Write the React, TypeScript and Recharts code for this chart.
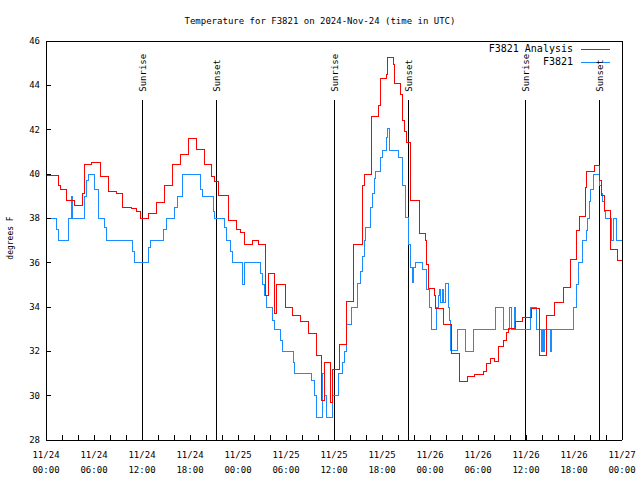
import React from 'react';
import { LineChart, Line, XAxis, YAxis, ReferenceLine } from 'recharts';

// hours since 11/24 00:00 UTC, temperature in deg F (step changes)
const ANALYSIS_HOURS = [
  0, 1.55, 1.75, 2.6, 3.6, 4.6, 4.75, 5.7, 6.75, 7.8, 8.75, 9.6, 10.7, 11.3, 11.75,
  12.8, 13.8, 14.75, 15.8, 16.75, 17.8, 18.75, 19.75, 20.7, 21.1, 21.6, 22.8, 23.75,
  24.25, 24.75, 25.8, 26.6, 27.45, 27.8, 28.5, 28.8, 29.9, 30.8, 31.8, 32.8, 33.75,
  34.45, 34.75, 35.5, 35.8, 36.7, 37.6, 38.4, 39.5, 39.6, 39.75, 40.7, 41.5, 41.75,
  42.5, 42.7, 43.4, 43.6, 44.3, 44.6, 44.75, 45.05, 45.6, 46.7, 47.4, 47.6, 47.85,
  48.55, 48.7, 49.7, 50.7, 51.7, 52.7, 53.6, 54.7, 55.1, 55.5, 56.1, 56.6, 57.2,
  57.6, 57.8, 58.7, 59.6, 60.7, 61.7, 62.6, 63.5, 64.7, 65.6, 66.3, 66.65, 67.4,
  67.6, 68.6, 69.2, 69.46, 69.75, 70.6, 71.45, 72,
];
const ANALYSIS_TEMPS = [
  39.95, 39.5, 39.3, 38.8, 38.6, 39.1, 40.45, 40.5, 39.9, 39.2, 39.1, 38.5, 38.45, 38.3, 38.0,
  38.2, 38.7, 39.5, 40.45, 40.9, 41.6, 41.1, 40.45, 39.9, 39.65, 39.05, 37.9, 37.5,
  37.35, 36.8, 37.0, 36.8, 34.5, 35.5, 33.7, 35.0, 34.0, 33.6, 33.35, 32.8, 31.8,
  29.8, 31.5, 29.7, 31.2, 32.3, 34.25, 36.8, 37.6, 39.5, 40.0, 42.6, 43.1, 44.3,
  44.5, 45.25, 44.95, 44.07, 43.6, 42.4, 41.9, 41.4, 38.8, 37.3, 37.0, 35.9, 34.85,
  34.5, 33.94, 33.2, 31.9, 30.66, 30.85, 30.96, 31.1, 31.45, 31.68, 31.56, 32.23, 32.5,
  32.85, 33.03, 33.35, 33.53, 33.94, 31.83, 33.6, 34.2, 34.9, 36.15, 37.45, 38.1, 39.4,
  40.1, 40.38, 39.7, 39.05, 38.36, 36.6, 36.1, 35.96,
];

const OBS_HOURS = [
  0, 1.25, 1.5, 2.8, 3.15, 3.35, 4.75, 5.0, 5.3, 6.1, 6.55, 7.3, 7.6, 10.8, 11.0,
  12.75, 13.0, 14.65, 15.1, 16.1, 16.4, 17.1, 19.25, 19.5, 20.9, 21.05, 22.25, 22.5,
  23.0, 23.3, 24.5, 24.75, 26.75, 27.0, 27.3, 27.6, 28.3, 28.5, 29.3, 29.5, 30.9,
  31.0, 33.2, 33.5, 33.75, 34.5, 34.75, 35.0, 35.8, 36.6, 37.0, 37.3, 37.6, 38.2,
  38.9, 39.3, 39.5, 39.8, 39.95, 40.6, 40.8, 41.0, 41.2, 41.75, 42.0, 42.5, 42.65,
  42.9, 44.0, 44.6, 44.9, 45.3, 45.5, 45.75, 45.95, 46.2, 47.1, 47.5, 47.9, 48.2,
  48.8, 49.0, 49.2, 49.35, 49.5, 49.65, 49.9, 50.25, 50.45, 50.6, 51.4, 52.4, 53.4,
  56.2, 57.2, 57.9, 58.2, 58.5, 58.7, 60.6, 61.3, 61.95, 62.1, 62.2, 62.35, 63.05,
  63.15, 65.9, 66.25, 66.5, 67.0, 67.5, 67.65, 67.9, 68.1, 68.4, 69.2, 69.45, 69.6,
  69.75, 69.9, 70.7, 70.9, 71.35, 72,
];
const OBS_TEMPS = [
  38, 37.5, 37, 38, 39, 38, 39, 39.7, 40, 39.3, 38, 37.6, 37, 36.5, 36,
  36.7, 37, 37.5, 38, 38.5, 39, 40, 39.3, 39, 38.3, 38, 37.6, 37,
  36.5, 36, 35, 36, 35.5, 35, 34.5, 34, 33.4, 33, 32.5, 32, 31.5,
  31, 30.7, 30, 29, 31, 30, 29, 30, 31, 31.5, 32, 33.2, 34,
  35.06, 35.6, 36.26, 37.0, 37.6, 38.5, 39.1, 39.8, 40.1, 40.76, 41.07, 41.66, 42.04,
  41.07, 40.76, 39.5, 38.06, 36.8, 35.8, 35.1, 35.8, 36.0, 35.7, 34.8, 34.0, 33.0,
  34.0, 34.5, 34.8, 34.2, 34.8, 34.2, 35.05, 34.0, 33.4, 32.03, 33, 32, 33,
  34, 33, 34, 33, 34, 33, 34, 33, 32, 33, 32, 33, 32,
  33, 34, 35, 36, 37, 37.46, 38.0, 38.76, 39.3, 40, 39.5, 39.1, 38.76,
  38.3, 38.0, 37, 38, 37, 37,
];

const SUNRISE_HOURS = [12.03, 36.04, 59.9];
const SUNSET_HOURS = [21.25, 45.28, 69.16];

const X_TICKS = [0, 2, 4, 6, 8, 10, 12, 14, 16, 18, 20, 22, 24, 26, 28, 30, 32, 34, 36,
  38, 40, 42, 44, 46, 48, 50, 52, 54, 56, 58, 60, 62, 64, 66, 68, 70, 72];
const DATE_LABELS = ['11/24', '11/24', '11/24', '11/24', '11/25', '11/25', '11/25',
  '11/25', '11/26', '11/26', '11/26', '11/26', '11/27'];
const TIME_LABELS = ['00:00', '06:00', '12:00', '18:00', '00:00', '06:00', '12:00',
  '18:00', '00:00', '06:00', '12:00', '18:00', '00:00'];
const Y_TICKS = [28, 30, 32, 34, 36, 38, 40, 42, 44, 46];

const analysisData = ANALYSIS_HOURS.map((h, i) => ({ h, t: ANALYSIS_TEMPS[i] }));
const obsData = OBS_HOURS.map((h, i) => ({ h, t: OBS_TEMPS[i] }));

const W = 640;
const H = 480;
const LEFT = 46;
const RIGHT = 622;
const TOP = 41;
const BOTTOM = 440;
const SUN_TOP = 43.35;
const FONT = '"DejaVu Sans Mono", monospace';
const RED = '#ff0000';
const BLUE = '#1a8cff';

const BottomTick = (props: any) => {
  const { x, payload } = props;
  const v = payload.value;
  const major = v % 6 === 0;
  const i = v / 6;
  return (
    <g>
      <line x1={x} x2={x} y1={BOTTOM} y2={BOTTOM - 5} stroke="#000" />
      {major && (
        <text textAnchor="middle" fontFamily={FONT} fontSize={9} fill="#000">
          <tspan x={x} y={458}>{DATE_LABELS[i]}</tspan>
          <tspan x={x} y={473}>{TIME_LABELS[i]}</tspan>
        </text>
      )}
    </g>
  );
};

const TopTick = (props: any) => (
  <line x1={props.x} x2={props.x} y1={TOP} y2={TOP + 5} stroke="#000" />
);

const LeftTick = (props: any) => {
  const { y, payload } = props;
  return (
    <g>
      <line x1={LEFT} x2={LEFT + 5} y1={y} y2={y} stroke="#000" />
      <text x={40} y={y + 3} textAnchor="end" fontFamily={FONT} fontSize={9} fill="#000">
        {payload.value}
      </text>
    </g>
  );
};

const RightTick = (props: any) => (
  <line x1={RIGHT - 5} x2={RIGHT} y1={props.y} y2={props.y} stroke="#000" />
);

const sunLabel = (text: string) => (props: any) => {
  const { viewBox } = props;
  const x = viewBox.x + 4;
  const y = viewBox.y - 8;
  return (
    <text
      transform={`translate(${x},${y}) rotate(-90)`}
      textAnchor="start"
      fontFamily={FONT}
      fontSize={9}
      fill="#000"
    >
      {text}
    </text>
  );
};

export default function App() {
  return (
    <div style={{ position: 'absolute', left: 0, top: 0, width: W, height: H, background: '#fff', shapeRendering: 'crispEdges' }}>
      <LineChart width={W} height={H} margin={{ top: 0, right: 0, bottom: 0, left: 0 }}>
        <XAxis
          type="number"
          dataKey="h"
          domain={[0, 72]}
          ticks={X_TICKS}
          interval={0}
          height={H - BOTTOM}
          axisLine={{ stroke: '#000' }}
          tickLine={false}
          tick={BottomTick}
        />
        <XAxis
          xAxisId="top"
          orientation="top"
          type="number"
          dataKey="h"
          domain={[0, 72]}
          ticks={X_TICKS}
          interval={0}
          height={TOP}
          axisLine={{ stroke: '#000' }}
          tickLine={false}
          tick={TopTick}
        />
        <YAxis
          type="number"
          domain={[28, 46]}
          ticks={Y_TICKS}
          interval={0}
          width={LEFT}
          axisLine={{ stroke: '#000' }}
          tickLine={false}
          tick={LeftTick}
        />
        <YAxis
          yAxisId="right"
          orientation="right"
          type="number"
          domain={[28, 46]}
          ticks={Y_TICKS}
          interval={0}
          width={W - RIGHT}
          axisLine={{ stroke: '#000' }}
          tickLine={false}
          tick={RightTick}
        />
        {SUNRISE_HOURS.map((h) => (
          <ReferenceLine
            key={`sr${h}`}
            segment={[{ x: h, y: SUN_TOP }, { x: h, y: 28 }]}
            stroke="#000"
            strokeWidth={1}
            label={sunLabel('Sunrise')}
          />
        ))}
        {SUNSET_HOURS.map((h) => (
          <ReferenceLine
            key={`ss${h}`}
            segment={[{ x: h, y: SUN_TOP }, { x: h, y: 28 }]}
            stroke="#000"
            strokeWidth={1}
            label={sunLabel('Sunset')}
          />
        ))}
        <Line
          data={obsData}
          dataKey="t"
          type="stepAfter"
          stroke={BLUE}
          strokeWidth={1}
          dot={false}
          isAnimationActive={false}
        />
        <Line
          data={analysisData}
          dataKey="t"
          type="stepAfter"
          stroke={RED}
          strokeWidth={1}
          dot={false}
          isAnimationActive={false}
        />
        <text x={320} y={24} textAnchor="middle" fontFamily={FONT} fontSize={9} fill="#000">
          Temperature for F3821 on 2024-Nov-24 (time in UTC)
        </text>
        <text
          transform="translate(13,238) rotate(-90)"
          textAnchor="middle"
          fontFamily={FONT}
          fontSize={8}
          fill="#000"
        >
          degrees F
        </text>
        <g fontFamily={FONT} fontSize={10} fill="#000">
          <text x={573} y={52} textAnchor="end">F3821 Analysis</text>
          <line x1={581} x2={610} y1={49} y2={49} stroke={RED} />
          <text x={573} y={65} textAnchor="end">F3821</text>
          <line x1={581} x2={610} y1={62} y2={62} stroke={BLUE} />
        </g>
      </LineChart>
    </div>
  );
}
